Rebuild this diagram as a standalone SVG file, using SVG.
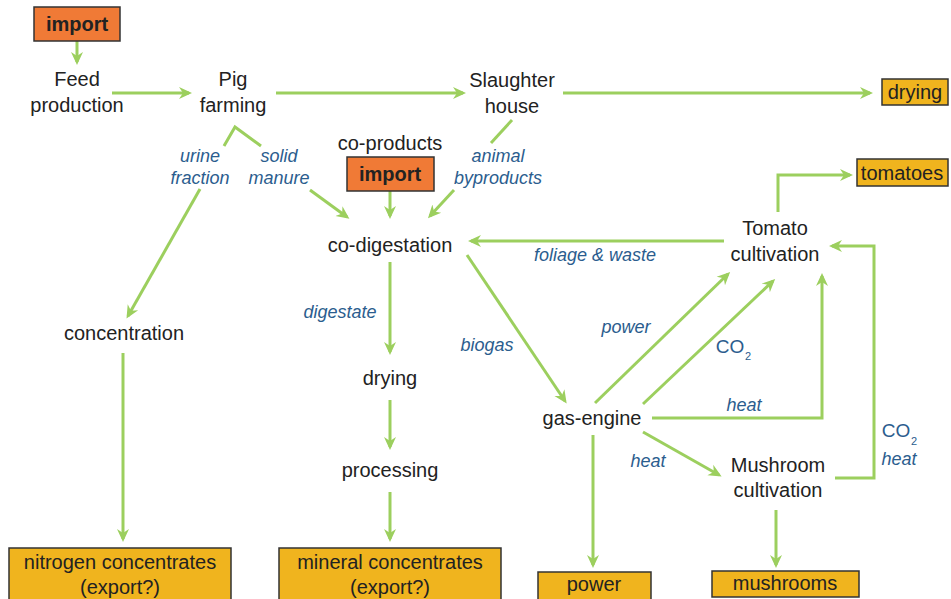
<svg xmlns="http://www.w3.org/2000/svg" width="951" height="599" viewBox="0 0 951 599">
<style>
.t{font-family:"Liberation Sans",Arial,sans-serif;font-size:20px;fill:#222;text-anchor:middle}
.l{font-family:"Liberation Sans",Arial,sans-serif;font-size:18px;font-style:italic;fill:#2b5d8e;text-anchor:middle}
.n{font-family:"Liberation Sans",Arial,sans-serif;font-size:19px;fill:#2b5d8e;text-anchor:middle}
.s{font-family:"Liberation Sans",Arial,sans-serif;font-size:11px;fill:#2b5d8e;text-anchor:middle}
.b{font-family:"Liberation Sans",Arial,sans-serif;font-size:20px;fill:#222;text-anchor:middle}
.imp{fill:#f07a36;stroke:#333;stroke-width:1.5}
.out{fill:#f0b41e;stroke:#333;stroke-width:1.5}
.c{fill:none;stroke:#9ccf5e;stroke-width:3}
.a{fill:none;stroke:#9ccf5e;stroke-width:3;marker-end:url(#ah)}
</style>
<defs>
<marker id="ah" markerUnits="userSpaceOnUse" markerWidth="14" markerHeight="14" refX="10" refY="7" orient="auto">
<path d="M0,1 L13,7 L0,13 L4,7 Z" fill="#9ccf5e"/>
</marker>
</defs>
<rect width="951" height="599" fill="#fff"/>
<g id="connectors">
<line class="a" x1="77" y1="41" x2="77" y2="62"/>
<line class="a" x1="112" y1="93" x2="189" y2="93"/>
<line class="a" x1="276" y1="93" x2="463" y2="93"/>
<line class="a" x1="563" y1="93" x2="870" y2="93"/>
<polyline class="c" points="224,146 235,127 261,146"/>
<line class="a" x1="200" y1="189" x2="128" y2="316"/>
<line class="a" x1="310" y1="190" x2="347" y2="217"/>
<line class="c" x1="512" y1="120" x2="491" y2="143"/>
<line class="a" x1="454" y1="190" x2="430" y2="216"/>
<line class="a" x1="390" y1="191" x2="390" y2="216"/>
<line class="a" x1="390" y1="262" x2="390" y2="352"/>
<line class="a" x1="390" y1="400" x2="390" y2="447"/>
<line class="a" x1="390" y1="492" x2="390" y2="539"/>
<line class="a" x1="123" y1="353" x2="123" y2="539"/>
<line class="a" x1="724" y1="241" x2="471" y2="241"/>
<polyline class="a" points="778,212 778,175 850,175"/>
<line class="a" x1="467" y1="255" x2="565" y2="401"/>
<line class="a" x1="595" y1="403" x2="728" y2="274"/>
<line class="a" x1="643" y1="404" x2="773" y2="281"/>
<polyline class="a" points="652,418 822,418 822,276"/>
<line class="a" x1="643" y1="432" x2="719" y2="475"/>
<polyline class="a" points="835,478 874,478 874,246 832,246"/>
<line class="a" x1="593" y1="435" x2="593" y2="565"/>
<line class="a" x1="776" y1="510" x2="776" y2="565"/>
</g>
<g id="import1"><rect class="imp" x="34" y="7" width="86" height="34"/><text class="b" x="77" y="31" font-weight="bold">import</text></g>
<g id="feed"><text class="t" x="77" y="86">Feed</text><text class="t" x="77" y="112">production</text></g>
<g id="pig"><text class="t" x="233" y="86">Pig</text><text class="t" x="233" y="112">farming</text></g>
<g id="slaughter"><text class="t" x="512" y="87">Slaughter</text><text class="t" x="512" y="113">house</text></g>
<g id="drying-out"><rect class="out" x="882" y="79" width="66" height="26"/><text class="b" x="915" y="99">drying</text></g>
<g id="lbl-urine"><text class="l" x="200" y="162">urine</text><text class="l" x="200" y="184">fraction</text></g>
<g id="lbl-solid"><text class="l" x="279" y="162">solid</text><text class="l" x="279" y="184">manure</text></g>
<g id="coproducts"><text class="t" x="390" y="150">co-products</text><rect class="imp" x="347" y="157" width="87" height="34"/><text class="b" x="390" y="181" font-weight="bold">import</text></g>
<g id="lbl-animal"><text class="l" x="498" y="162">animal</text><text class="l" x="498" y="184">byproducts</text></g>
<g id="tomatoes-out"><rect class="out" x="857" y="159" width="91" height="27"/><text class="b" x="902" y="180">tomatoes</text></g>
<g id="codigestation"><text class="t" x="390" y="252">co-digestation</text></g>
<g id="tomato"><text class="t" x="775" y="235">Tomato</text><text class="t" x="775" y="261">cultivation</text></g>
<g id="lbl-foliage"><text class="l" x="595" y="261">foliage &amp; waste</text></g>
<g id="lbl-digestate"><text class="l" x="340" y="318">digestate</text></g>
<g id="lbl-biogas"><text class="l" x="487" y="351">biogas</text></g>
<g id="lbl-power"><text class="l" x="626" y="333">power</text></g>
<g id="lbl-co2"><text class="n" x="730" y="353">CO</text><text class="s" x="748" y="360">2</text></g>
<g id="concentration"><text class="t" x="124" y="340">concentration</text></g>
<g id="drying"><text class="t" x="390" y="385">drying</text></g>
<g id="lbl-heat1"><text class="l" x="744" y="411">heat</text></g>
<g id="gasengine"><text class="t" x="592" y="425">gas-engine</text></g>
<g id="lbl-co2heat"><text class="n" x="896" y="437">CO</text><text class="s" x="914" y="445">2</text><text class="l" x="899" y="465">heat</text></g>
<g id="lbl-heat2"><text class="l" x="648" y="467">heat</text></g>
<g id="processing"><text class="t" x="390" y="477">processing</text></g>
<g id="mushroom"><text class="t" x="778" y="472">Mushroom</text><text class="t" x="778" y="497">cultivation</text></g>
<g id="nitrogen"><rect class="out" x="9" y="548" width="222" height="56"/><text class="b" x="120" y="569">nitrogen concentrates</text><text class="b" x="120" y="594">(export?)</text></g>
<g id="mineral"><rect class="out" x="279" y="548" width="222" height="56"/><text class="b" x="390" y="569">mineral concentrates</text><text class="b" x="390" y="594">(export?)</text></g>
<g id="power-out"><rect class="out" x="538" y="572" width="113" height="30"/><text class="b" x="594" y="591">power</text></g>
<g id="mushrooms-out"><rect class="out" x="712" y="571" width="147" height="26"/><text class="b" x="785" y="590">mushrooms</text></g>
</svg>
